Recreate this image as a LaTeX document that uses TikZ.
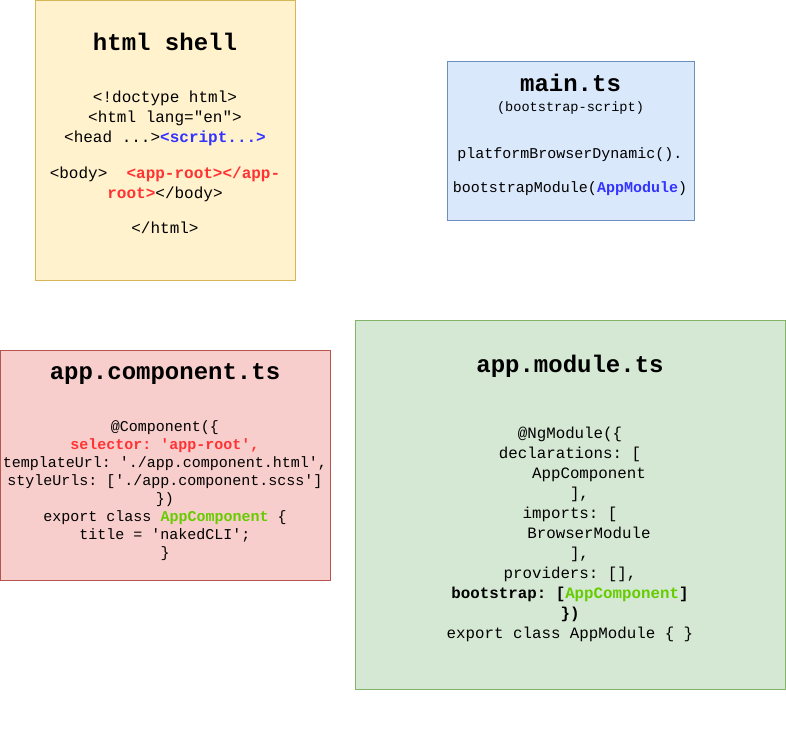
\documentclass[tikz,border=0pt]{standalone}
\usepackage{fontspec}
\setmonofont{Liberation Mono}

\definecolor{shellfill}{HTML}{FFF2CC}
\definecolor{shellline}{HTML}{D6B656}
\definecolor{mainfill}{HTML}{DAE8FC}
\definecolor{mainline}{HTML}{6C8EBF}
\definecolor{compfill}{HTML}{F8CECC}
\definecolor{compline}{HTML}{B85450}
\definecolor{modfill}{HTML}{D5E8D4}
\definecolor{modline}{HTML}{82B366}
\definecolor{codeblue}{HTML}{3333FF}
\definecolor{codered}{HTML}{FF3333}
\definecolor{codegreen}{HTML}{66CC00}

\tikzset{
  filebox/.style={draw, line width=0.8pt, anchor=north west, inner sep=0pt},
  filetitle/.style={anchor=base, inner sep=0pt, font=\ttfamily\bfseries\fontsize{24}{28}\selectfont},
  codeblock/.style={anchor=north, inner sep=0pt, align=center},
}

\begin{document}
\begin{tikzpicture}[x=1pt,y=-1pt]
    \useasboundingbox (0,0) rectangle (786,741);

    % the four files
    \node[filebox, fill=shellfill, draw=shellline, minimum width=260, minimum height=280] (shell) at (35,0) {};
    \node[filebox, fill=mainfill, draw=mainline, minimum width=247, minimum height=159] (main) at (447,61) {};
    \node[filebox, fill=compfill, draw=compline, minimum width=330, minimum height=230] (comp) at (0,350) {};
    \node[filebox, fill=modfill, draw=modline, minimum width=430, minimum height=369] (module) at (355,320) {};

    % html shell
    \node[filetitle] (shelltitle) at (165,51) {html shell};
    \node[codeblock, font=\ttfamily\fontsize{16}{20}\selectfont] (shellcode) at (165,88.5) {\strut<!doctype html>\\
      <html lang="en">\\
      <head ...>\textcolor{codeblue}{\bfseries<script...>}\\[16pt]
      <body>\ \ \textcolor{codered}{\bfseries<app-root></app-}\\
      \textcolor{codered}{\bfseries root>}</body>\\[15pt]
      </html>};

    % main.ts
    \node[filetitle] (maintitle) at (570.5,92) {main.ts};
    \node[anchor=base, inner sep=0pt, font=\ttfamily\fontsize{13.6}{16}\selectfont] (mainsub) at (570.5,111.5) {(bootstrap-script)};
    \node[codeblock, font=\ttfamily\fontsize{15}{34}\selectfont] (maincode) at (570,134) {\strut platformBrowserDynamic().\\
      bootstrapModule(\textcolor{codeblue}{\bfseries AppModule})};

    % app.component.ts
    \node[filetitle] (comptitle) at (165,379) {app.component.ts};
    \node[codeblock, font=\ttfamily\fontsize{15}{18}\selectfont] (compcode) at (165,418.4) {\strut @Component(\{\\
      \textcolor{codered}{\bfseries selector: 'app-root',}\\
      templateUrl: './app.component.html',\\
      styleUrls: ['./app.component.scss']\\
      \})\\
      export class \textcolor{codegreen}{\bfseries AppComponent} \{\\
      title = 'nakedCLI';\\
      \}};

    % app.module.ts
    \node[filetitle] (modtitle) at (570,372) {app.module.ts};
    \node[codeblock, font=\ttfamily\fontsize{15.8}{20}\selectfont] (modcode) at (570,424) {\strut @NgModule(\{\\
      declarations: [\\
      \phantom{xxxx}AppComponent\\
      \phantom{xx}],\\
      imports: [\\
      \phantom{xxxx}BrowserModule\\
      \phantom{xx}],\\
      providers: [],\\
      \textbf{bootstrap: [\textcolor{codegreen}{AppComponent}]}\\
      \textbf{\})}\\
      export class AppModule \{ \}};
\end{tikzpicture}
\end{document}
